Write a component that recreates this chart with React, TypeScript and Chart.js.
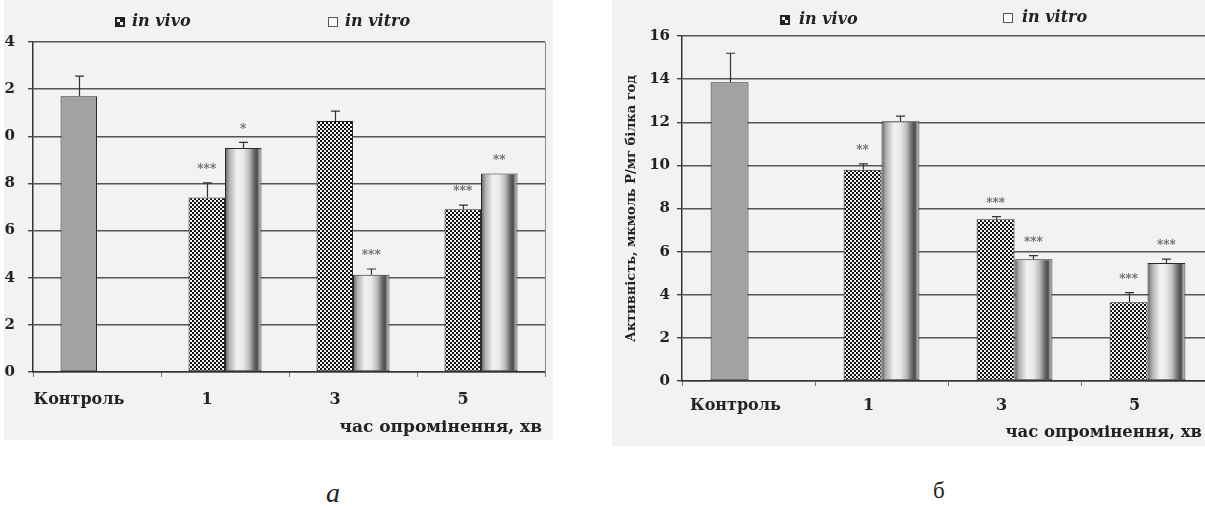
import React, { useEffect, useRef } from 'react';
import { Chart, registerables } from 'chart.js';

Chart.register(...registerables);

// ---------- data ----------
const categories = ['Контроль', '1', '3', '5'];
const seriesNames = ['in vivo', 'in vitro'];

// panel a
const aInVivo = [11.7, 7.4, 10.65, 6.9];
const aInVivoErr = [0.85, 0.62, 0.42, 0.18];
const aInVitro = [null, 9.5, 4.13, 8.42];
const aInVitroErr = [null, 0.24, 0.24, 0];
const aInVivoStars = ['', '***', '', '***'];
const aInVitroStars = ['', '*', '***', '**'];
const aYTicks = [0, 2, 4, 6, 8, 10, 12, 14];

// panel б
const bInVivo = [13.85, 9.8, 7.5, 3.65];
const bInVivoErr = [1.35, 0.27, 0.12, 0.45];
const bInVitro = [null, 12.05, 5.65, 5.47];
const bInVitroErr = [null, 0.23, 0.16, 0.18];
const bInVivoStars = ['', '**', '***', '***'];
const bInVitroStars = ['', '', '***', '***'];
const bYTicks = [0, 2, 4, 6, 8, 10, 12, 14, 16];

const xTitle = 'час опромінення, хв';
const bYTitle = 'Активність, мкмоль Р/мг білка год';

// ---------- styling helpers ----------
const SERIF = '"DejaVu Serif"';
const CAT_PCT = 0.57;

function makeChecker(): CanvasPattern | string {
  const c = document.createElement('canvas');
  c.width = 4;
  c.height = 4;
  const g = c.getContext('2d');
  if (!g) return '#777';
  g.fillStyle = '#f6f6f6';
  g.fillRect(0, 0, 4, 4);
  g.fillStyle = '#111';
  g.fillRect(0, 0, 2, 2);
  g.fillRect(2, 2, 2, 2);
  const p = g.createPattern(c, 'repeat');
  return p || '#777';
}

function vitroFill(ctx: any) {
  const chart = ctx.chart;
  const xs = chart.scales && chart.scales.x;
  if (ctx.type !== 'data' || !xs || !chart.chartArea) return '#d0d0d0';
  const n = chart.data.labels.length;
  const cw = xs.width / n;
  const center = xs.getPixelForValue(ctx.dataIndex);
  const bw = (cw * CAT_PCT) / 2;
  const g = chart.ctx.createLinearGradient(center, 0, center + bw, 0);
  g.addColorStop(0, '#5e5e5e');
  g.addColorStop(0.12, '#b0b0b0');
  g.addColorStop(0.33, '#f2f2f2');
  g.addColorStop(0.5, '#e8e8e8');
  g.addColorStop(0.66, '#bcbcbc');
  g.addColorStop(0.8, '#6a6a6a');
  g.addColorStop(0.88, '#4a4a4a');
  g.addColorStop(0.94, '#9a9a9a');
  g.addColorStop(1, '#dedede');
  return g;
}

const overlayPlugin = {
  id: 'overlay',
  afterDatasetsDraw(chart: any, _args: any, opts: any) {
    const { ctx, chartArea } = chart;
    const ys = chart.scales.y;
    ctx.save();
    // right border of plot area
    ctx.strokeStyle = '#8a8a8a';
    ctx.lineWidth = 1;
    ctx.beginPath();
    ctx.moveTo(chartArea.right + 0.5, chartArea.top);
    ctx.lineTo(chartArea.right + 0.5, chartArea.bottom);
    ctx.stroke();

    // error bars + significance marks
    chart.data.datasets.forEach((ds: any, di: number) => {
      const meta = chart.getDatasetMeta(di);
      const errs = opts.errors[di];
      const stars = opts.stars[di];
      meta.data.forEach((bar: any, i: number) => {
        const v = ds.data[i];
        if (v == null) return;
        const e = errs[i] || 0;
        const cx = Math.round(bar.x) + 0.5;
        const yTop = ys.getPixelForValue(v);
        const yErr = ys.getPixelForValue(v + e);
        if (e > 0) {
          ctx.strokeStyle = '#333';
          ctx.lineWidth = 1.2;
          ctx.beginPath();
          ctx.moveTo(cx, yTop);
          ctx.lineTo(cx, yErr);
          ctx.moveTo(cx - 4.5, yErr);
          ctx.lineTo(cx + 4.5, yErr);
          ctx.stroke();
        }
        if (stars[i]) {
          ctx.fillStyle = '#666';
          ctx.font = `bold 12px ${SERIF}`;
          ctx.textAlign = 'center';
          ctx.textBaseline = 'middle';
          ctx.fillText(stars[i], bar.x, yErr - 13);
        }
      });
    });

    // legend
    opts.legend.forEach((it: any, k: number) => {
      const bx = it.x;
      const by = it.y - 5;
      if (k === 0) {
        ctx.fillStyle = '#222';
        ctx.fillRect(bx, by, 10, 10);
        ctx.fillStyle = '#f4f4f4';
        ctx.fillRect(bx + 2, by + 2, 3, 3);
        ctx.fillRect(bx + 5, by + 5, 3, 3);
      } else {
        ctx.fillStyle = '#fafafa';
        ctx.fillRect(bx, by, 10, 10);
        ctx.strokeStyle = '#555';
        ctx.lineWidth = 1;
        ctx.strokeRect(bx + 0.5, by + 0.5, 9, 9);
      }
      ctx.fillStyle = '#222';
      ctx.font = `italic bold 16px ${SERIF}`;
      ctx.textAlign = 'left';
      ctx.textBaseline = 'middle';
      ctx.fillText(seriesNames[k], bx + it.gap, it.y);
    });

    // x axis title
    ctx.fillStyle = '#222';
    ctx.font = `bold ${opts.xTitleSize}px ${SERIF}`;
    ctx.textAlign = 'right';
    ctx.textBaseline = 'middle';
    ctx.fillText(xTitle, chartArea.right - opts.xTitleInset, chartArea.bottom + opts.xTitleDy);
    ctx.restore();
  },
};

function buildConfig(p: any) {
  const checker = p.pattern;
  return {
    type: 'bar',
    data: {
      labels: categories,
      datasets: [
        {
          label: seriesNames[0],
          data: p.vivo,
          backgroundColor: (c: any) => (c.dataIndex === 0 ? '#a2a2a2' : checker),
          borderColor: '#2a2a2a',
          borderWidth: 1,
          borderSkipped: false,
          categoryPercentage: CAT_PCT,
          barPercentage: 1,
        },
        {
          label: seriesNames[1],
          data: p.vitro,
          backgroundColor: vitroFill,
          borderColor: '#2a2a2a',
          borderWidth: 1,
          borderSkipped: false,
          categoryPercentage: CAT_PCT,
          barPercentage: 1,
        },
      ],
    },
    options: {
      responsive: false,
      animation: false,
      devicePixelRatio: 1,
      layout: { padding: { top: p.top, right: p.padRight, left: 0, bottom: 0 } },
      scales: {
        x: {
          type: 'category',
          offset: true,
          grid: {
            display: true,
            offset: true,
            drawOnChartArea: false,
            drawTicks: true,
            tickLength: 5,
            tickColor: '#777',
            lineWidth: 1,
          },
          border: { display: true, color: '#333', width: 1.5 },
          ticks: {
            autoSkip: false,
            maxRotation: 0,
            minRotation: 0,
            labelOffset: p.labelOffset,
            padding: p.xPad,
            color: '#222',
            font: { family: SERIF, size: 16, weight: 'bold' },
          },
          afterFit: (s: any) => {
            s.height = p.xHeight;
          },
        },
        y: {
          min: 0,
          max: p.yTicks[p.yTicks.length - 1],
          afterBuildTicks: (s: any) => {
            s.ticks = p.yTicks.map((v: number) => ({ value: v }));
          },
          grid: {
            color: '#555',
            lineWidth: 1.4,
            drawTicks: true,
            tickLength: 5,
            tickColor: '#444',
          },
          border: { display: true, color: '#333', width: 1.5 },
          ticks: {
            padding: p.yPad,
            color: '#222',
            font: { family: SERIF, size: 15, weight: 'bold' },
          },
          title: p.yTitle
            ? {
                display: true,
                text: p.yTitle,
                color: '#222',
                font: { family: SERIF, size: 13, weight: 'bold' },
                padding: { top: p.yTitlePad, bottom: 0 },
              }
            : { display: false },
          afterFit: (s: any) => {
            s.width = p.left;
          },
        },
      },
      plugins: {
        legend: { display: false },
        tooltip: { enabled: false },
        title: { display: false },
        overlay: {
          errors: p.errors,
          stars: p.stars,
          legend: p.legend,
          xTitleSize: p.xTitleSize,
          xTitleInset: p.xTitleInset,
          xTitleDy: p.xTitleDy,
        },
      },
    },
    plugins: [overlayPlugin],
  };
}

export default function App() {
  const aRef = useRef<HTMLCanvasElement>(null);
  const bRef = useRef<HTMLCanvasElement>(null);

  useEffect(() => {
    const pattern = makeChecker();
    const charts: Chart[] = [];
    if (aRef.current) {
      charts.push(
        new Chart(
          aRef.current,
          buildConfig({
            pattern,
            vivo: aInVivo,
            vitro: aInVitro,
            errors: [aInVivoErr, aInVitroErr],
            stars: [aInVivoStars, aInVitroStars],
            yTicks: aYTicks,
            top: 42,
            padRight: 15,
            left: 53,
            xHeight: 68,
            labelOffset: -18,
            xPad: 13,
            yPad: 13,
            legend: [
              { x: 135, y: 22, gap: 17 },
              { x: 348, y: 22, gap: 17 },
            ],
            xTitleSize: 17,
            xTitleInset: 3,
            xTitleDy: 56,
          }) as any
        )
      );
    }
    if (bRef.current) {
      charts.push(
        new Chart(
          bRef.current,
          buildConfig({
            pattern,
            vivo: bInVivo,
            vitro: bInVitro,
            errors: [bInVivoErr, bInVitroErr],
            stars: [bInVivoStars, bInVitroStars],
            yTicks: bYTicks,
            yTitle: bYTitle,
            yTitlePad: 12,
            top: 36,
            padRight: 18,
            left: 70,
            xHeight: 65,
            labelOffset: -13,
            xPad: 10,
            yPad: 7,
            legend: [
              { x: 168, y: 20, gap: 19 },
              { x: 391, y: 18, gap: 19 },
            ],
            xTitleSize: 16.5,
            xTitleInset: 12,
            xTitleDy: 52,
          }) as any
        )
      );
    }
    return () => charts.forEach((c) => c.destroy());
  }, []);

  return (
    <div
      style={{
        position: 'fixed',
        left: 0,
        top: 0,
        width: 1205,
        height: 508,
        background: '#ffffff',
        overflow: 'hidden',
      }}
    >
      <div
        style={{
          position: 'absolute',
          left: 4,
          top: 0,
          width: 549,
          height: 440,
          overflow: 'hidden',
          background: '#f2f2f2',
        }}
      >
        <canvas
          ref={aRef}
          width={580}
          height={440}
          style={{ position: 'absolute', left: -24, top: 0, display: 'block' }}
        />
      </div>
      <div
        style={{
          position: 'absolute',
          left: 612,
          top: 0,
          width: 593,
          height: 446,
          overflow: 'hidden',
          background: '#f2f2f2',
        }}
      >
        <canvas
          ref={bRef}
          width={620}
          height={446}
          style={{ position: 'absolute', left: 0, top: 0, display: 'block' }}
        />
      </div>
      <div
        style={{
          position: 'absolute',
          left: 326,
          top: 479,
          font: 'italic 28px "Liberation Serif"',
          lineHeight: 1,
          color: '#222',
        }}
      >
        a
      </div>
      <div
        style={{
          position: 'absolute',
          left: 933,
          top: 479,
          font: '23px "Liberation Serif"',
          lineHeight: 1,
          color: '#222',
        }}
      >
        б
      </div>
    </div>
  );
}
